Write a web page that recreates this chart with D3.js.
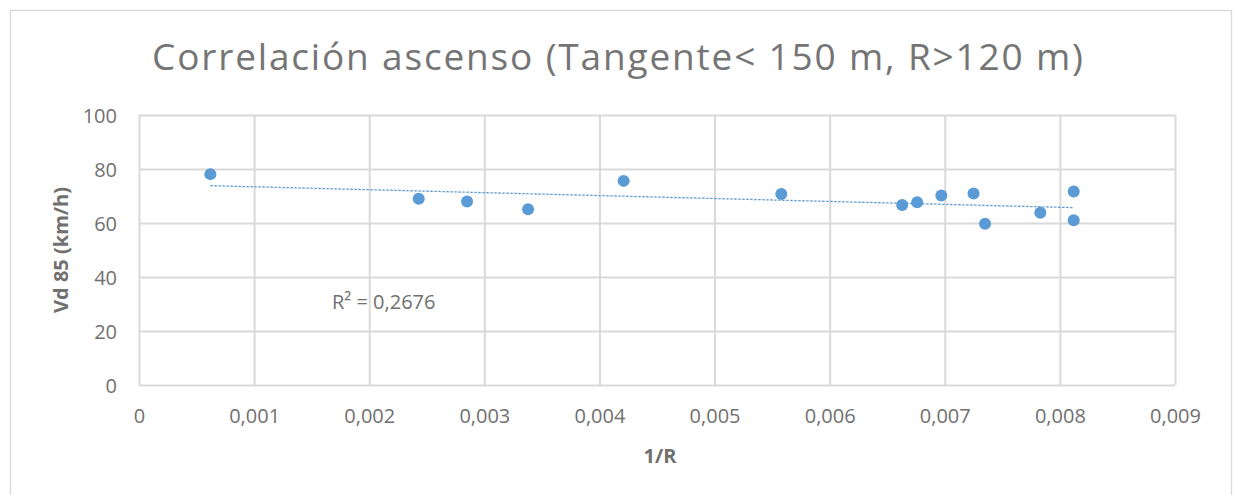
<!DOCTYPE html>
<html>
<head>
<meta charset="utf-8">
<script src="https://cdn.jsdelivr.net/npm/d3@7"></script>
<style>
  html, body { margin: 0; padding: 0; background: #fff; }
  svg { display: block; font-family: "Open Sans", "Liberation Sans", sans-serif; }
</style>
</head>
<body>
<svg id="chart" width="1237" height="495"></svg>
<script>
// Curvature (1/R) and 85th-percentile speed for each uphill curve
const invR  = [0.00062, 0.00243, 0.00285, 0.00338, 0.00421, 0.00558, 0.00663,
               0.00676, 0.00697, 0.00725, 0.00735, 0.00783, 0.00812, 0.00812];
const vd85  = [78.1, 69.0, 68.0, 65.1, 75.6, 70.7, 66.7,
               67.7, 70.2, 70.9, 59.7, 63.8, 71.7, 61.0];
const xTicks = [0, 0.001, 0.002, 0.003, 0.004, 0.005, 0.006, 0.007, 0.008, 0.009];
const yTicks = [0, 20, 40, 60, 80, 100];
const titleText = "Correlación ascenso (Tangente< 150 m, R>120 m)";
const xTitle = "1/R";
const yTitle = "Vd 85 (km/h)";
const r2Text = "R² = 0,2676";

const svg = d3.select("#chart");
const grid = "#d9d9d9";
const textCol = "#707070";
const dotCol = "#5b9bd5";

// Spanish number format: comma as decimal separator
const es = d3.formatLocale({ decimal: ",", thousands: ".", grouping: [3], currency: ["", " €"] });
const fmtX = d => d === 0 ? "0" : es.format(".3f")(d);

const x = d3.scaleLinear().domain([0, 0.009]).range([139, 1175]);
const y = d3.scaleLinear().domain([0, 100]).range([385, 115]);

// chart frame
svg.append("rect")
  .attr("x", 10.5).attr("y", 10.5).attr("width", 1221).attr("height", 520)
  .attr("fill", "#fff").attr("stroke", grid).attr("stroke-width", 1.3);

// title, spaced out across the top
svg.append("text")
  .attr("x", 152).attr("y", 70)
  .attr("font-size", 37).attr("fill", "#757575")
  .attr("textLength", 931).attr("lengthAdjust", "spacing")
  .text(titleText);

// gridlines via axes
const xGrid = d3.axisBottom(x).tickValues(xTicks).tickSize(-(385 - 115)).tickFormat("");
const yGrid = d3.axisLeft(y).tickValues(yTicks).tickSize(-(1175 - 139)).tickFormat("");
const gx = svg.append("g").attr("transform", "translate(0,385)").call(xGrid);
const gy = svg.append("g").attr("transform", "translate(139,0)").call(yGrid);
[gx, gy].forEach(g => {
  g.select(".domain").remove();
  g.selectAll("line").attr("stroke", grid).attr("stroke-width", 2);
});

// tick labels
const xAxis = d3.axisBottom(x).tickValues(xTicks).tickSize(0).tickPadding(0).tickFormat(fmtX);
const ax = svg.append("g").attr("transform", "translate(0,423)").call(xAxis);
ax.select(".domain").remove();
ax.selectAll("text").attr("dy", 0).attr("font-size", 20).attr("fill", textCol)
  .attr("font-family", "'Open Sans', sans-serif");

const yAxis = d3.axisLeft(y).tickValues(yTicks).tickSize(0).tickPadding(0);
const ay = svg.append("g").attr("transform", "translate(117,0)").call(yAxis);
ay.select(".domain").remove();
ay.selectAll("text").attr("dy", "0.35em").attr("font-size", 20).attr("fill", textCol)
  .attr("font-family", "'Open Sans', sans-serif");

// axis titles
svg.append("text")
  .attr("x", 660).attr("y", 463)
  .attr("text-anchor", "middle").attr("font-size", 20).attr("font-weight", "bold")
  .attr("fill", textCol).text(xTitle);
svg.append("text")
  .attr("transform", "translate(68,250) rotate(-90)")
  .attr("text-anchor", "middle").attr("font-size", 20).attr("font-weight", "bold")
  .attr("fill", textCol).text(yTitle);

// least-squares linear trend over the points
const n = invR.length;
const mx = d3.mean(invR), my = d3.mean(vd85);
let sxy = 0, sxx = 0;
for (let i = 0; i < n; i++) {
  sxy += (invR[i] - mx) * (vd85[i] - my);
  sxx += (invR[i] - mx) * (invR[i] - mx);
}
const slope = sxy / sxx;
const icpt = my - slope * mx;
const [x0, x1] = d3.extent(invR);
svg.append("line")
  .attr("x1", x(x0)).attr("y1", y(icpt + slope * x0))
  .attr("x2", x(x1)).attr("y2", y(icpt + slope * x1))
  .attr("stroke", dotCol).attr("stroke-width", 1.3)
  .attr("stroke-dasharray", "2.5,1.5");

svg.append("text")
  .attr("x", 332).attr("y", 309)
  .attr("font-size", 20).attr("fill", textCol)
  .text(r2Text);

// data points
svg.append("g").selectAll("circle")
  .data(invR.map((v, i) => [v, vd85[i]]))
  .join("circle")
  .attr("cx", d => x(d[0])).attr("cy", d => y(d[1]))
  .attr("r", 6).attr("fill", dotCol);
</script>
</body>
</html>
